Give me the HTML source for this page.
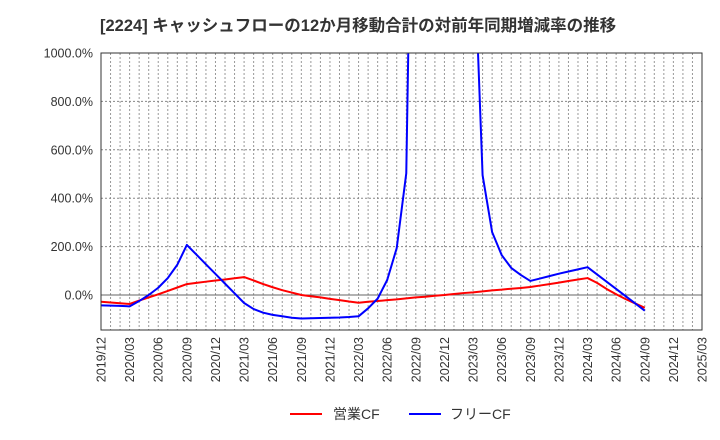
<!DOCTYPE html>
<html><head><meta charset="utf-8"><style>
body{margin:0;background:#fff;}
svg{display:block;font-family:"Liberation Sans","Noto Sans CJK JP",sans-serif;}
</style></head><body>
<svg id="c" width="720" height="440">
<text x="100" y="31" font-size="16.5" font-weight="bold" fill="#333">[2224]  キャッシュフローの12か月移動合計の対前年同期増減率の推移</text>
<g id="grid"></g><g id="axes"></g>
<defs><clipPath id="clip"><rect x="101" y="53" width="601" height="277"/></clipPath></defs>
<g id="series" clip-path="url(#clip)"></g>
<rect x="101" y="53" width="601" height="277" fill="none" stroke="#333" stroke-width="1"/>
<g>
<line x1="290" y1="414" x2="322" y2="414" stroke="#f00" stroke-width="2"/>
<text x="333" y="419" font-size="14" fill="#333">営業CF</text>
<line x1="409" y1="414" x2="441" y2="414" stroke="#00f" stroke-width="2"/>
<text x="450" y="419" font-size="14" fill="#333">フリーCF</text>
</g>
</svg>
<script>
const xLabels=["2019/12","2020/03","2020/06","2020/09","2020/12","2021/03","2021/06","2021/09","2021/12","2022/03","2022/06","2022/09","2022/12","2023/03","2023/06","2023/09","2023/12","2024/03","2024/06","2024/09","2024/12","2025/03"];
const yTicks=[0,200,400,600,800,1000];
const operatingCF=[-28,-31,-34,-37,-23,-10,3,17,31,45,50,55,60,64,69,74,60,45,32,20,10,0,-5,-10,-16,-21,-27,-32,-28,-25,-21,-18,-14,-10,-7,-3,0,4,8,11,15,19,22,26,29,33,39,45,51,58,64,70,50,25,3,-17,-35,-53];
const freeCF=[-43,-44,-45,-47,-25,0,30,70,125,207,167,127,87,47,7,-33,-58,-73,-82,-88,-94,-97,-96,-95,-94,-93,-91,-88,-55,-15,62,194,503,2900,3500,3800,3800,3500,3000,1550,495,260,165,112,83,58,68,78,88,97,106,115,85,55,25,-5,-35,-65];
const NS="http://www.w3.org/2000/svg";
const X0=101,X1=702,Y0=295,SC=0.242;
const months=63;
function xs(i){return X0+i*(X1-X0)/months;}
function ys(v){return Y0-v*SC;}
function mk(t,a,p){const e=document.createElementNS(NS,t);for(const k in a)e.setAttribute(k,a[k]);p.appendChild(e);return e;}
const grid=document.getElementById('grid'),axes=document.getElementById('axes'),ser=document.getElementById('series');
for(let m=1;m<months;m++){const l=mk('line',{x1:xs(m),x2:xs(m),y1:53,y2:330,stroke:'#999','stroke-width':1,'stroke-dasharray':'2,2'},grid);

}
yTicks.forEach(v=>{const l=mk('line',{x1:X0,x2:X1,y1:ys(v),y2:ys(v),stroke:v===0?'#666':'#888','stroke-width':1,'stroke-dasharray':v===0?'':'2,2'},grid);


const t=mk('text',{x:93,y:ys(v)+4.5,'font-size':12.5,fill:'#333','text-anchor':'end'},axes);t.textContent=v.toFixed(1)+'%';

});
xLabels.forEach((s,i)=>{const x=xs(i*3);const t=mk('text',{x:0,y:0,'font-size':12.5,fill:'#333','text-anchor':'end',transform:`translate(${x+4.5},337) rotate(-90)`},axes);t.textContent=s;

});
function line(d,c,n){const p=mk('polyline',{points:d.map((v,i)=>xs(i)+','+ys(v)).join(' '),fill:'none',stroke:c,'stroke-width':2,'stroke-linejoin':'round'},ser);

}
line(operatingCF,'#f00','operating-cf-line');
line(freeCF,'#00f','free-cf-line');
</script>
</body></html>
